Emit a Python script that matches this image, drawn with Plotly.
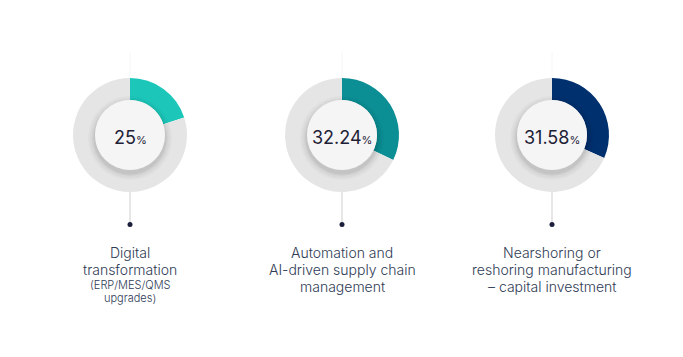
import plotly.graph_objects as go

# ---- data ----
categories = [
    ["Digital", "transformation"],
    ["Automation and", "AI-driven supply chain", "management"],
    ["Nearshoring or", "reshoring manufacturing", "– capital investment"],
]
sub_labels = [["(ERP/MES/QMS", "upgrades)"], [], []]
pct_labels = ["25", "32.24", "31.58"]
slice_share = [20, 32.24, 31.58]   # share drawn by the coloured arc (as seen in picture)
colors = ["#1cc7ba", "#0b8f94", "#00306e"]

# ---- layout constants ----
W, H = 683, 357
cx_list = [130, 342, 552]
cy = 135
R_out = 57
R_in = 35
ring_grey = "#e5e5e5"
text_col = "#2f3b55"
pct_col = "#1e2136"
FONT = "Inter"

fig = go.Figure()

for i, cx in enumerate(cx_list):
    v = slice_share[i]
    fig.add_trace(go.Pie(
        values=[v, 100 - v],
        marker=dict(colors=[colors[i], ring_grey], line=dict(width=0)),
        hole=R_in / R_out,
        sort=False,
        direction="clockwise",
        rotation=0,
        textinfo="none",
        hoverinfo="skip",
        showlegend=False,
        domain=dict(x=[(cx - R_out) / W, (cx + R_out) / W],
                    y=[1 - (cy + R_out) / H, 1 - (cy - R_out) / H]),
    ))

    # connector lines
    fig.add_trace(go.Scatter(x=[cx, cx], y=[52, cy - R_out], mode="lines",
                             line=dict(color="#f6f6f6", width=1),
                             hoverinfo="skip", showlegend=False))
    fig.add_trace(go.Scatter(x=[cx, cx], y=[cy + R_out, 224], mode="lines",
                             line=dict(color="#cfcfcf", width=1),
                             hoverinfo="skip", showlegend=False))
    fig.add_trace(go.Scatter(x=[cx], y=[224.5], mode="markers",
                             marker=dict(color="#1b1e3c", size=5),
                             hoverinfo="skip", showlegend=False))

shapes = []
for i, cx in enumerate(cx_list):
    # soft shadow under inner disc
    for k, op in [(7, 0.025), (5, 0.03), (3, 0.04), (1.5, 0.05)]:
        r = R_in + k
        shapes.append(dict(type="circle", xref="x", yref="y",
                           x0=cx - r, x1=cx + r, y0=cy + 3 - r, y1=cy + 3 + r,
                           fillcolor=f"rgba(0,0,0,{op})", line=dict(width=0),
                           layer="above"))
    shapes.append(dict(type="circle", xref="x", yref="y",
                       x0=cx - R_in, x1=cx + R_in, y0=cy - R_in, y1=cy + R_in,
                       fillcolor="#f5f5f5", line=dict(width=0), layer="above"))

annotations = []
for i, cx in enumerate(cx_list):
    annotations.append(dict(
        x=cx, y=cy + 2, xref="x", yref="y", showarrow=False,
        text=f"{pct_labels[i]}<span style='font-size:11px'>%</span>",
        font=dict(family=FONT, size=18, color=pct_col),
        xanchor="center", yanchor="middle"))
    y = 252
    for line in categories[i]:
        annotations.append(dict(x=cx, y=y, xref="x", yref="y", showarrow=False,
                                text=line,
                                font=dict(family=FONT, size=14, color=text_col, weight=300),
                                xanchor="center", yanchor="middle"))
        y += 17
    y -= 1
    for line in sub_labels[i]:
        annotations.append(dict(x=cx, y=y, xref="x", yref="y", showarrow=False,
                                text=line,
                                font=dict(family=FONT, size=11, color=text_col, weight=300),
                                xanchor="center", yanchor="middle"))
        y += 13

fig.update_layout(
    width=W, height=H,
    margin=dict(l=0, r=0, t=0, b=0),
    paper_bgcolor="white", plot_bgcolor="white",
    xaxis=dict(range=[0, W], visible=False, fixedrange=True),
    yaxis=dict(range=[H, 0], visible=False, fixedrange=True),
    shapes=shapes, annotations=annotations,
    showlegend=False,
)

fig.write_html("out.html", config={"displayModeBar": False},
               post_script="document.body.style.margin='0';")
